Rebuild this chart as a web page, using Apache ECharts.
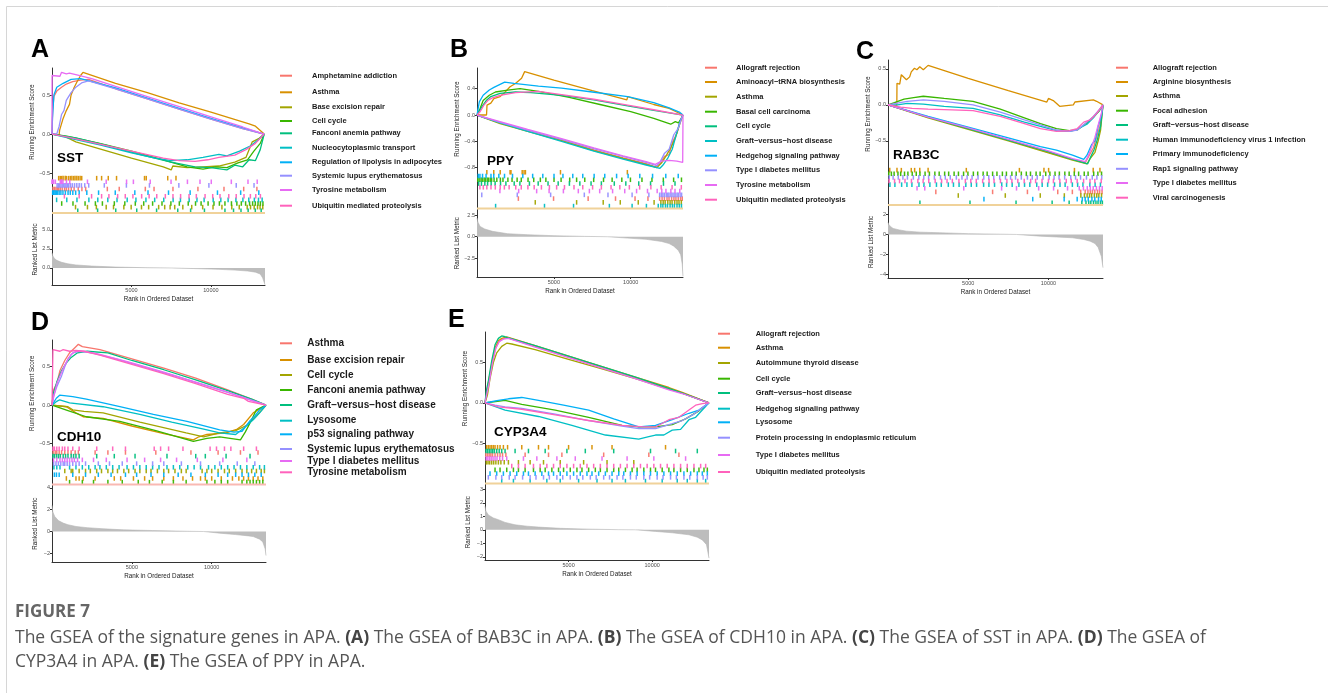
<!DOCTYPE html>
<html>
<head>
<meta charset="utf-8">
<script src="https://cdn.jsdelivr.net/npm/echarts@6.0.0/dist/echarts.min.js"></script>
<style>
  html, body { margin: 0; padding: 0; background: #fff; }
  #main { width: 1328px; height: 693px; }
</style>
</head>
<body>
<div id="main"></div>
<script>
// ggplot hue palette, 10 gene sets per panel
var colors = ['#F8766D', '#D89000', '#A3A500', '#39B600', '#00BF7D', '#00BFC4', '#00B0F6', '#9590FF', '#E76BF3', '#FF62BC'];
var N_GENES = 13400;
var xLabelTicks = [5000, 10000];

// ---------- A : SST ----------
var namesA = ['Amphetamine addiction', 'Asthma', 'Base excision repair', 'Cell cycle', 'Fanconi anemia pathway',
  'Nucleocytoplasmic transport', 'Regulation of lipolysis in adipocytes', 'Systemic lupus erythematosus',
  'Tyrosine metabolism', 'Ubiquitin mediated proteolysis'];
var esA = [
  [[0,0],[40,0.3],[120,0.48],[300,0.55],[600,0.6],[900,0.64],[1300,0.67],[1800,0.69],[2300,0.7],[4000,0.58],[6000,0.45],[8000,0.32],[10000,0.19],[12000,0.07],[13350,0]],
  [[0,0],[450,-0.01],[480,0.05],[700,0.2],[900,0.3],[1100,0.38],[1200,0.5],[1400,0.6],[1600,0.68],[1800,0.75],[1950,0.79],[4000,0.65],[6000,0.53],[8000,0.4],[10000,0.28],[12400,0.13],[12800,0.1],[13350,0]],
  [[0,0],[800,-0.03],[1500,-0.1],[3000,-0.19],[5000,-0.31],[7000,-0.42],[7500,-0.46],[7600,-0.41],[8500,-0.43],[9500,-0.42],[10500,-0.41],[11500,-0.36],[12200,-0.3],[12600,-0.1],[13000,-0.06],[13350,0]],
  [[0,0],[1000,-0.03],[3000,-0.12],[5000,-0.22],[7000,-0.33],[8500,-0.42],[9500,-0.45],[10300,-0.42],[11000,-0.43],[11700,-0.37],[12300,-0.33],[12700,-0.22],[13100,-0.12],[13350,0]],
  [[0,0],[1500,-0.05],[3500,-0.15],[5500,-0.26],[7500,-0.36],[9000,-0.42],[10000,-0.43],[11000,-0.46],[11500,-0.4],[12000,-0.42],[12400,-0.33],[12800,-0.34],[13100,-0.2],[13350,0]],
  [[0,0],[1000,-0.05],[3000,-0.14],[5000,-0.24],[6500,-0.31],[7500,-0.34],[8500,-0.33],[9500,-0.3],[10500,-0.26],[11000,-0.28],[11800,-0.22],[12500,-0.15],[13000,-0.07],[13350,0]],
  [[0,0],[30,0.2],[120,0.5],[300,0.6],[700,0.65],[1200,0.7],[1800,0.71],[4000,0.59],[6000,0.46],[8000,0.33],[10000,0.2],[12000,0.08],[13350,0]],
  [[0,0],[300,0],[450,0.1],[600,0.25],[750,0.3],[900,0.43],[1200,0.53],[1500,0.6],[1900,0.66],[2300,0.68],[4000,0.58],[6000,0.45],[8000,0.32],[10000,0.19],[12000,0.07],[13350,0]],
  [[0,0],[5,0.75],[500,0.74],[600,0.79],[900,0.77],[1100,0.78],[1500,0.76],[2500,0.71],[4000,0.61],[6000,0.48],[8000,0.35],[10000,0.22],[12000,0.09],[13350,0]],
  [[0,0],[1000,-0.04],[3000,-0.13],[5000,-0.22],[7000,-0.31],[8000,-0.34],[9000,-0.35],[9800,-0.33],[10500,-0.3],[11500,-0.27],[12200,-0.2],[12800,-0.12],[13350,0]]
];
var rugA = [
  [60,150,250,330,420,520,640,790,900,1040,1210,1390,1650,1880,2120,3480,4230,5870,6420,7610,9180,10820,12060,12890],
  [420,520,610,700,830,910,1040,1150,1250,1360,1450,1560,1660,1770,1870,2810,3120,3540,4060,5820,5930,7280,7800],
  [1480,2230,2790,3410,3870,4520,4980,5630,6080,6710,7090,7430,7720,8230,8790,9480,10130,10690,11310,11780,12280,12490,12720,12930,13090,13260],
  [610,1320,2080,2730,3170,3920,4580,5240,5770,6330,6920,7480,8010,8570,9030,9380,9820,10190,10530,10880,11290,11630,11910,12180,12430,12620,12790,12960,13110,13270],
  [1620,2870,4010,5330,6580,7910,8720,9590,10880,11420,11890,12340,12790,13160],
  [290,930,1570,2320,2880,3510,4090,4730,5280,5910,6460,7030,7620,8080,8630,9120,9570,10140,10620,11080,11570,12010,12380,12730,12990,13220],
  [40,80,130,200,270,350,450,560,690,840,1010,1150,1310,1490,1710,2190,2930,3980,5210,6040,7330,8690,10410,11870,13010],
  [320,400,470,560,640,720,810,880,960,1050,1160,1280,1420,1560,1710,1850,2060,2310,3290,4680,6130,7980,9870,11590,12710],
  [5,20,100,210,520,580,620,690,910,1120,2230,3410,4690,5120,6180,7490,8520,9310,10020,11280,12330,12910],
  [780,1710,2490,3120,3580,4130,4610,5090,5640,6110,6590,7130,7610,8090,8620,9080,9630,10110,10570,11120,11590,12080,12480,12820,13110]
];
var rowA = [3, 0, 8, 7, 9, 6, 4, 2, 1, 5];
var rankA = [[0,2.0],[50,1.6],[150,1.25],[300,1.0],[600,0.75],[1000,0.55],[1500,0.4],[2500,0.25],[4000,0.12],[6000,0.03],[7500,0],[9000,-0.08],[10500,-0.18],[11500,-0.28],[12300,-0.4],[12800,-0.55],[13100,-0.8],[13250,-1.3],[13400,-2.2]];
var esTicksA = [-0.5, 0, 0.5];
var rkTicksA = [0, 2.5, 5];

// ---------- B : PPY ----------
var namesB = ['Allograft rejection', 'Aminoacyl\u2212tRNA biosynthesis', 'Asthma', 'Basal cell carcinoma', 'Cell cycle',
  'Graft\u2212versus\u2212host disease', 'Hedgehog signaling pathway', 'Type I diabetes mellitus', 'Tyrosine metabolism',
  'Ubiquitin mediated proteolysis'];
var esB = [
  [[0,0],[1500,-0.12],[3300,-0.24],[5500,-0.38],[7600,-0.53],[9500,-0.65],[11000,-0.74],[11600,-0.79],[11900,-0.74],[12200,-0.63],[12500,-0.6],[12700,-0.42],[13000,-0.28],[13250,-0.06],[13400,0]],
  [[0,0],[620,0],[650,0.15],[900,0.18],[1100,0.25],[1500,0.28],[1750,0.33],[2150,0.43],[2500,0.48],[2900,0.56],[3100,0.66],[5000,0.53],[7500,0.37],[9750,0.23],[9800,0.28],[11500,0.16],[12500,0.1],[13400,0]],
  [[0,0],[1500,-0.13],[3300,-0.25],[5500,-0.39],[7600,-0.54],[9500,-0.66],[11000,-0.75],[11700,-0.8],[12000,-0.73],[12300,-0.62],[12600,-0.5],[12900,-0.35],[13200,-0.13],[13400,0]],
  [[0,0],[200,0.1],[400,0.22],[800,0.3],[1200,0.35],[2000,0.38],[2800,0.4],[4000,0.36],[6000,0.27],[8000,0.16],[10000,0.05],[11500,-0.05],[12600,-0.14],[12900,-0.1],[13100,-0.12],[13300,-0.05],[13400,0]],
  [[0,0],[300,0.12],[600,0.22],[900,0.28],[1500,0.33],[2500,0.35],[3500,0.34],[5500,0.3],[7600,0.23],[9800,0.14],[11500,0.07],[13400,0]],
  [[0,0],[1500,-0.12],[3300,-0.25],[5500,-0.4],[7600,-0.55],[9500,-0.67],[11000,-0.76],[11900,-0.81],[12100,-0.76],[12400,-0.66],[12700,-0.52],[12900,-0.35],[13200,-0.1],[13400,0]],
  [[0,0],[150,0.2],[400,0.3],[800,0.38],[1100,0.42],[1800,0.5],[2400,0.48],[4000,0.44],[5500,0.41],[7500,0.35],[9800,0.28],[11500,0.19],[12500,0.11],[13200,0.04],[13400,0]],
  [[0,0],[1500,-0.11],[3300,-0.23],[5500,-0.37],[7600,-0.51],[9500,-0.63],[11000,-0.72],[11700,-0.77],[11900,-0.72],[12200,-0.58],[12500,-0.52],[12800,-0.3],[13100,-0.2],[13300,-0.05],[13400,0]],
  [[0,0],[1500,-0.1],[3300,-0.22],[5500,-0.36],[7600,-0.5],[9500,-0.62],[11000,-0.71],[11600,-0.75],[12000,-0.7],[12500,-0.69],[13000,-0.7],[13380,-0.72],[13400,0]],
  [[0,0],[200,0.05],[450,0.15],[700,0.22],[1000,0.26],[1500,0.3],[2500,0.34],[4000,0.36],[5500,0.31],[7600,0.24],[9800,0.15],[11500,0.08],[13400,0]]
];
var rugB = [
  [2690,4980,7230,9010,10280,11120,11880,12040,12190,12360,12490,12660,12810,12940,13090,13240,13350],
  [640,1090,1510,2150,2210,2940,3060,3150,5430,9780],
  [3790,6480,8210,9320,10490,11520,11960,12110,12240,12410,12560,12690,12860,13010,13140,13290],
  [50,140,260,340,460,540,660,740,860,950,1110,1290,1520,1690,2010,2280,2610,2880,3320,3690,4120,4480,5010,5470,6030,6480,7010,7590,8230,8790,9420,9980,10730,11380,12120,12790,13300],
  [110,290,510,690,920,1180,1530,1880,2420,2790,3410,3980,4620,5280,6010,6690,7420,8090,8930,9680,10520,11290,12130,12880],
  [1210,4390,6280,8610,10090,11020,11790,11960,12090,12260,12390,12560,12710,12840,13010,13160,13300],
  [80,190,360,590,910,1090,1420,1790,2310,2980,3620,4280,5010,5590,6230,6880,7620,8310,9080,9830,10590,11420,12280,13090],
  [310,2620,4790,6980,8520,10090,11180,11880,11990,12090,12190,12310,12410,12490,12610,12690,12810,12890,13010,13090,13210,13310],
  [1490,2710,3880,4690,5620,6590,7310,7980,8820,9610,10380,11090,11720,12020,12290,12610,12880,13190],
  [190,410,640,910,1190,1510,1780,2090,2520,2880,3310,3720,4190,4710,5180,5690,6310,6880,7520,8090,8720,9290,9910,10580,11310,11980,12690,13290]
];
var rowB = [7, 0, 8, 2, 3, 9, 1, 6, 5, 4];
var rankB = [[0,2.2],[60,1.7],[200,1.2],[500,0.9],[1000,0.63],[2000,0.35],[3300,0.23],[5000,0.12],[7000,0.04],[8500,0],[9800,-0.16],[11000,-0.3],[12000,-0.55],[12500,-0.8],[12800,-1.1],[13100,-1.6],[13250,-2.1],[13350,-3.2],[13400,-4.6]];
var esTicksB = [-0.8, -0.4, 0, 0.4];
var rkTicksB = [-2.5, 0, 2.5];

// ---------- C : RAB3C ----------
var namesC = ['Allograft rejection', 'Arginine biosynthesis', 'Asthma', 'Focal adhesion', 'Graft\u2212versus\u2212host disease',
  'Human immunodeficiency virus 1 infection', 'Primary immunodeficiency', 'Rap1 signaling pathway',
  'Type I diabetes mellitus', 'Viral carcinogenesis'];
var esC = [
  [[0,0],[2500,-0.17],[5000,-0.33],[7500,-0.49],[10000,-0.66],[11500,-0.76],[12300,-0.8],[12500,-0.72],[12800,-0.6],[13000,-0.45],[13200,-0.3],[13400,0]],
  [[0,0],[550,-0.01],[560,0.3],[730,0.29],[830,0.42],[1150,0.35],[1350,0.39],[1450,0.46],[1650,0.51],[1800,0.49],[1980,0.53],[2200,0.49],[2500,0.55],[5000,0.37],[7500,0.2],[9900,0.04],[10000,0.09],[10300,0.06],[10700,-0.02],[11550,0],[11650,0.04],[12800,0.07],[13000,0.05],[13400,0]],
  [[0,0],[2500,-0.18],[5000,-0.34],[7500,-0.5],[10000,-0.67],[11500,-0.77],[12400,-0.82],[12600,-0.75],[12900,-0.66],[13100,-0.5],[13250,-0.35],[13400,0]],
  [[0,0],[400,0.03],[1000,0.08],[1600,0.1],[2200,0.12],[3500,0.09],[5300,0.05],[7000,-0.06],[8500,-0.18],[9500,-0.26],[10500,-0.33],[11300,-0.36],[11800,-0.35],[12400,-0.25],[12800,-0.17],[13150,-0.09],[13400,0]],
  [[0,0],[2500,-0.17],[5000,-0.33],[7500,-0.49],[10000,-0.65],[11500,-0.76],[12450,-0.82],[12600,-0.74],[12850,-0.62],[13050,-0.48],[13250,-0.3],[13400,0]],
  [[0,0],[600,0],[1200,0.02],[2200,0.01],[3500,-0.02],[5300,-0.05],[7000,-0.14],[8500,-0.24],[9500,-0.3],[10500,-0.36],[11300,-0.37],[11800,-0.34],[12400,-0.27],[12800,-0.18],[13150,-0.08],[13400,0]],
  [[0,0],[2500,-0.16],[5000,-0.31],[7500,-0.46],[9500,-0.58],[10500,-0.63],[11500,-0.7],[12200,-0.76],[12400,-0.7],[12700,-0.55],[12900,-0.5],[13100,-0.3],[13300,-0.15],[13400,0]],
  [[0,0],[500,0.02],[1200,0.05],[2200,0.07],[3500,0.05],[5300,0],[7000,-0.1],[8500,-0.21],[9500,-0.28],[10500,-0.35],[11300,-0.37],[11800,-0.35],[12400,-0.24],[12800,-0.16],[13150,-0.07],[13400,0]],
  [[0,0],[2500,-0.17],[5000,-0.32],[7500,-0.48],[10000,-0.64],[11500,-0.75],[12300,-0.79],[12500,-0.7],[12700,-0.58],[12900,-0.45],[13100,-0.28],[13300,-0.12],[13400,0]],
  [[0,0],[800,-0.03],[1500,-0.05],[2500,-0.06],[4000,-0.07],[5300,-0.08],[7000,-0.16],[8500,-0.26],[9500,-0.33],[10500,-0.37],[11300,-0.36],[11800,-0.33],[12200,-0.24],[12600,-0.21],[13000,-0.12],[13400,0]]
];
var rugC = [
  [2980,6520,8690,10580,11490,12010,12290,12460,12610,12740,12890,13060,13190,13340],
  [110,560,830,1450,1660,1980,2500,4880,8190,9720,10010,11620,12790,13210],
  [4380,7310,9490,10990,12020,12240,12410,12560,12690,12860,13010,13140,13310],
  [50,210,380,620,790,1030,1240,1510,1760,1990,2310,2580,2920,3190,3530,3780,4120,4390,4710,4980,5320,5590,5930,6180,6520,6790,7130,7380,7720,7990,8310,8620,8880,9230,9480,9830,10090,10410,10680,11020,11290,11610,11880,12230,12470,12820,13080,13310],
  [1990,5110,7980,10230,11290,12080,12340,12510,12640,12810,12960,13090,13240,13360],
  [120,430,850,1180,1490,1930,2240,2610,3020,3320,3760,4080,4430,4850,5190,5520,5960,6290,6640,7090,7390,7740,8160,8510,8840,9270,9610,9950,10380,10720,11040,11490,11820,12150,12580,12910,13240],
  [5980,9020,10980,11790,12110,12290,12480,12710,12890,13120,13290],
  [80,320,640,930,1210,1580,1920,2230,2530,2890,3270,3570,3880,4260,4610,4930,5240,5610,5970,6280,6590,6960,7320,7640,7950,8310,8690,8990,9300,9660,10040,10350,10660,11010,11390,11690,12000,12370,12730,13020,13320],
  [1810,2290,4720,7080,8010,9390,10320,11190,11920,12180,12420,12610,12790,12990,13180,13350],
  [70,410,720,1060,1460,1860,2190,2540,2940,3340,3680,4010,4420,4820,5160,5500,5900,6300,6610,7010,7410,7720,8090,8490,8890,9200,9600,10000,10310,10710,11110,11420,11790,12190,12590,12890,13290]
];
var rowC = [6, 0, 7, 1, 9, 4, 8, 2, 5, 3];
var rankC = [[0,1.2],[50,1.0],[150,0.8],[320,0.6],[700,0.45],[1150,0.33],[2000,0.23],[3200,0.17],[5000,0.08],[7000,0.03],[8000,0],[9500,-0.17],[10500,-0.25],[11500,-0.33],[12200,-0.5],[12600,-0.67],[12900,-0.9],[13100,-1.3],[13300,-2.2],[13400,-3.3]];
var esTicksC = [-0.5, 0, 0.5];
var rkTicksC = [-4, -2, 0, 2];

// ---------- D : CDH10 ----------
var namesD = ['Asthma', 'Base excision repair', 'Cell cycle', 'Fanconi anemia pathway', 'Graft\u2212versus\u2212host disease',
  'Lysosome', 'p53 signaling pathway', 'Systemic lupus erythematosus', 'Type I diabetes mellitus', 'Tyrosine metabolism'];
var esD = [
  [[0,0],[100,0.2],[300,0.28],[500,0.45],[800,0.58],[1100,0.68],[1400,0.74],[1650,0.79],[1900,0.76],[3000,0.72],[5000,0.6],[7000,0.48],[9000,0.35],[11000,0.2],[12500,0.08],[13400,0]],
  [[0,0],[900,-0.02],[1500,-0.1],[1950,-0.15],[3200,-0.17],[5000,-0.27],[7000,-0.37],[8850,-0.45],[9200,-0.41],[9700,-0.38],[10900,-0.36],[11600,-0.31],[12000,-0.25],[12600,-0.1],[13400,0]],
  [[0,0],[1000,-0.02],[1300,-0.06],[2000,-0.08],[3200,-0.1],[5500,-0.22],[8400,-0.36],[9500,-0.41],[10500,-0.36],[11500,-0.33],[12200,-0.26],[12800,-0.14],[13400,0]],
  [[0,0],[1000,-0.07],[2150,-0.15],[4250,-0.21],[6500,-0.33],[8850,-0.47],[9700,-0.43],[10500,-0.41],[11800,-0.45],[12100,-0.35],[12400,-0.23],[12800,-0.06],[13400,0]],
  [[0,0],[80,0.15],[300,0.3],[600,0.45],[900,0.55],[1200,0.62],[1600,0.68],[2200,0.7],[3500,0.68],[5000,0.58],[7000,0.46],[9000,0.33],[11000,0.19],[12500,0.08],[13400,0]],
  [[0,0],[300,0.05],[480,0.07],[1100,0.03],[3200,-0.02],[5500,-0.12],[7500,-0.22],[9500,-0.31],[10500,-0.36],[11500,-0.38],[12000,-0.3],[12600,-0.19],[13000,-0.1],[13400,0]],
  [[0,0],[270,0.09],[480,0.13],[1300,0.11],[2150,0.08],[4250,-0.02],[6350,-0.12],[8450,-0.21],[10500,-0.32],[11400,-0.35],[11900,-0.34],[12400,-0.2],[12700,-0.14],[13000,-0.06],[13400,0]],
  [[0,0],[100,0.12],[300,0.24],[600,0.38],[800,0.5],[1000,0.6],[1300,0.68],[1700,0.7],[2500,0.68],[4000,0.6],[6000,0.48],[8000,0.36],[10000,0.23],[12000,0.1],[13400,0]],
  [[0,0],[100,0.1],[300,0.28],[600,0.43],[900,0.56],[1200,0.66],[1500,0.7],[2000,0.7],[3000,0.66],[5000,0.55],[7000,0.43],[9000,0.3],[11000,0.17],[12500,0.06],[13400,0]],
  [[0,0],[50,0],[60,0.72],[500,0.7],[700,0.72],[1100,0.7],[1500,0.71],[2000,0.7],[3000,0.65],[5000,0.53],[7000,0.41],[9000,0.28],[11000,0.14],[12000,0.09],[12300,0.05],[13400,0]]
];
var rugD = [
  [70,200,300,450,600,800,1000,1200,1450,1650,2700,3500,4600,6500,8700,10400,11800,12900],
  [900,1500,1700,1950,2700,3900,4300,5100,5800,6300,7000,7600,8200,8800,9300,9600,10000,10600,11300,11700,12000,12300,12600,12900,13200],
  [800,1200,1300,1700,2100,2400,2800,3100,3500,3800,4100,4500,4800,5200,5500,5900,6200,6600,7000,7300,7700,8100,8400,9400,9700,10000,10400,10800,11100,11500,11900,12200,12500,12800,13100,13300],
  [1100,1900,2600,3500,4400,5400,6100,6900,7600,8400,9700,10200,10600,11000,11900,12200,12400,12600,12800,13000,13200],
  [60,150,280,400,520,700,850,1000,1200,1350,1500,1700,2800,3900,5200,7200,9000,9600,10900,12400],
  [120,300,500,1100,1500,1900,2300,2700,3000,3400,3800,4200,4700,5100,5500,5900,6300,6700,7200,7600,8000,8500,8900,9300,9800,10200,10600,11000,11400,11800,12200,12600,13000,13300],
  [150,280,450,1300,2100,2900,3700,4600,5300,6200,7000,7900,8700,9600,10400,11000,11500,11900,12300,12700,13100],
  [100,250,400,550,700,800,950,1100,1300,1500,1700,2100,2900,3600,4400,5300,6300,7000,8100,9300,10500,11600,12700],
  [100,300,500,650,800,950,1100,1250,1400,1600,1900,2600,3400,4700,5800,6800,7800,9100,10700,12200],
  [60,150,300,450,650,800,1000,1300,1700,2800,3800,4600,6400,6800,7300,8200,9900,10300,10800,11200,12000,12800]
];
var rowD = [1, 8, 6, 9, 2, 5, 7, 4, 3, 0];
var rankD = [[0,2.4],[50,1.8],[170,1.38],[400,1.0],[700,0.77],[1000,0.62],[1500,0.46],[2200,0.35],[3200,0.25],[4500,0.15],[6300,0.09],[8500,0.02],[9500,0],[10500,-0.15],[11500,-0.28],[12300,-0.4],[12600,-0.46],[13000,-0.7],[13200,-0.95],[13350,-1.6],[13400,-2.2]];
var esTicksD = [-0.5, 0, 0.5];
var rkTicksD = [-2, 0, 2, 4];

// ---------- E : CYP3A4 ----------
var namesE = ['Allograft rejection', 'Asthma', 'Autoimmune thyroid disease', 'Cell cycle', 'Graft\u2212versus\u2212host disease',
  'Hedgehog signaling pathway', 'Lysosome', 'Protein processing in endoplasmic reticulum', 'Type I diabetes mellitus',
  'Ubiquitin mediated proteolysis'];
var esE = [
  [[0,0],[100,0.1],[200,0.22],[400,0.45],[600,0.66],[800,0.75],[1000,0.79],[1300,0.81],[3000,0.7],[5000,0.57],[7000,0.44],[9000,0.31],[11000,0.18],[11800,0.12],[13400,0]],
  [[0,0],[100,0.12],[200,0.25],[400,0.48],[600,0.68],[800,0.77],[1000,0.8],[1300,0.82],[3000,0.71],[5000,0.58],[7000,0.45],[9000,0.32],[11000,0.19],[11800,0.13],[13400,0]],
  [[0,0],[150,0.1],[300,0.3],[500,0.5],[700,0.62],[1000,0.7],[1300,0.74],[1600,0.73],[3000,0.66],[5000,0.54],[7000,0.42],[9000,0.3],[11000,0.17],[11800,0.12],[13400,0]],
  [[0,0],[400,0.01],[1200,0.03],[2200,-0.02],[4200,-0.09],[6200,-0.18],[8200,-0.28],[9200,-0.3],[10200,-0.3],[11200,-0.27],[12000,-0.2],[12800,-0.1],[13400,0]],
  [[0,0],[80,0.15],[200,0.27],[400,0.52],[600,0.72],[800,0.8],[1000,0.83],[1200,0.82],[3000,0.71],[5000,0.58],[7000,0.45],[9000,0.32],[11000,0.18],[11800,0.12],[13400,0]],
  [[0,0],[1200,-0.09],[3200,-0.17],[5200,-0.28],[7200,-0.4],[9200,-0.45],[9800,-0.42],[10200,-0.4],[10700,-0.4],[11200,-0.34],[11700,-0.33],[12200,-0.21],[12600,-0.18],[13000,-0.09],[13400,0]],
  [[0,0],[300,0.01],[800,0.03],[1400,0.05],[2200,0.066],[3200,0.03],[4700,-0.03],[6200,-0.09],[7700,-0.2],[9200,-0.3],[10200,-0.28],[11200,-0.21],[12200,-0.13],[12800,-0.09],[13400,0]],
  [[0,0],[600,-0.03],[1200,-0.05],[2200,-0.07],[4200,-0.14],[6200,-0.22],[8200,-0.29],[9200,-0.32],[10200,-0.32],[11200,-0.26],[11800,-0.22],[12500,-0.14],[13000,-0.06],[13400,0]],
  [[0,0],[100,0.1],[250,0.25],[450,0.5],[650,0.68],[850,0.76],[1100,0.79],[1400,0.8],[3000,0.69],[5000,0.56],[7000,0.43],[9000,0.3],[11000,0.16],[12000,0.1],[13400,0]],
  [[0,0],[800,-0.05],[2200,-0.08],[4200,-0.15],[6200,-0.22],[8200,-0.28],[9500,-0.3],[10200,-0.3],[11000,-0.21],[11600,-0.18],[12200,-0.09],[12600,-0.03],[13000,-0.01],[13400,0]]
];
var rugE = [
  [50,150,250,350,450,600,750,900,1050,1250,2400,3800,4600,7100,9800,11600],
  [100,200,300,400,500,600,750,900,1100,1350,2200,3200,3800,5000,6400,7600,10800],
  [80,180,280,400,520,650,800,950,1150,1400,2000,2700,3500,4500,5900,7300,8900],
  [600,900,1300,1700,2000,2400,2900,3300,3600,4000,4400,4700,5100,5500,5800,6200,6600,6900,7300,7700,8000,8400,8800,9100,9500,9900,10200,10600,11000,11300,11700,12100,12500,12800,13100,13300],
  [60,160,260,360,460,560,700,850,1000,1200,1800,2600,3600,4900,6000,7700,9900,11400,12700],
  [1000,1700,2700,3700,4500,5600,6700,7600,8400,9600,10600,11500,12100,12700,13200],
  [300,700,1100,1500,1900,2300,2600,3000,3400,3800,4100,4500,4900,5300,5700,6100,6400,6800,7200,7600,8000,8300,8700,9100,9500,9900,10300,10700,11100,11500,11900,12300,12700,13000,13300],
  [200,650,1000,1450,1800,2250,2700,3050,3500,3850,4300,4650,5100,5500,5850,6300,6650,7100,7450,7900,8250,8700,9050,9500,9850,10300,10650,11100,11450,11900,12250,12700,13050,13300],
  [70,170,270,370,480,600,720,880,1050,1300,2300,3100,4300,5400,7000,8500,10100,12000],
  [1600,2000,2400,2900,3300,3700,4100,4500,4900,5300,5700,6100,6500,6900,7300,7700,8100,8500,8900,9300,9700,10100,10500,10900,11300,11700,12100,12500,12900,13200]
];
var rowE = [2, 0, 4, 6, 1, 9, 7, 8, 3, 5];
var rankE = [[0,1.75],[50,1.4],[200,1.1],[500,0.88],[800,0.75],[1200,0.55],[1800,0.37],[2500,0.27],[3200,0.2],[4500,0.11],[6200,0.05],[8000,0.01],[9000,0],[10200,-0.12],[11200,-0.22],[12200,-0.37],[12700,-0.55],[13000,-0.75],[13250,-1.1],[13400,-2.1]];
var esTicksE = [-0.5, 0, 0.5];
var rkTicksE = [-2, -1, 0, 1, 2, 3];

// ---------- layout (pixels) ----------
var FONT = '"Liberation Sans", Arial, sans-serif';
var panels = [
  { letter: 'A', gene: 'SST', names: namesA, es: esA, rug: rugA, rows: rowA, rank: rankA, esTicks: esTicksA, rkTicks: rkTicksA,
    left: 52, right: 265, esTop: 68, esBot: 176, rugBot: 214, rkBot: 285, esMin: -0.538, esMax: 0.846, rkMin: -2.24, rkMax: 7.1, esDec: 1, rkDec: 1,
    letterXY: [31, 50], geneXY: [57, 158], keyX: 280, textX: 312, fs: 7.5, base: '#f0d29a',
    legY: [75.7, 92.3, 107.3, 121, 133.3, 147.7, 162.3, 175.7, 190, 205.7] },
  { letter: 'B', gene: 'PPY', names: namesB, es: esB, rug: rugB, rows: rowB, rank: rankB, esTicks: esTicksB, rkTicks: rkTicksB,
    left: 477, right: 683, esTop: 68, esBot: 170, rugBot: 209.5, rkBot: 277, esMin: -0.836, esMax: 0.715, rkMin: -4.69, rkMax: 3.17, esDec: 1, rkDec: 1,
    letterXY: [450, 50], geneXY: [487, 161], keyX: 705, textX: 736, fs: 7.5, base: '#f0d29a',
    legY: [67.7, 82, 96.7, 111.7, 126.3, 141, 155.7, 170.3, 185, 199.7] },
  { letter: 'C', gene: 'RAB3C', names: namesC, es: esC, rug: rugC, rows: rowC, rank: rankC, esTicks: esTicksC, rkTicks: rkTicksC,
    left: 888, right: 1103, esTop: 60, esBot: 168, rugBot: 206, rkBot: 278, esMin: -0.879, esMax: 0.625, rkMin: -4.33, rkMax: 2.83, esDec: 1, rkDec: 0,
    letterXY: [856, 52], geneXY: [893, 155], keyX: 1116, textX: 1152.7, fs: 7.5, base: '#f0d29a',
    legY: [67.7, 82, 96, 110.7, 125, 139.7, 154, 168.8, 183, 197.7] },
  { letter: 'D', gene: 'CDH10', names: namesD, es: esD, rug: rugD, rows: rowD, rank: rankD, esTicks: esTicksD, rkTicks: rkTicksD,
    left: 52, right: 266, esTop: 340, esBot: 446.5, rugBot: 485.5, rkBot: 562, esMin: -0.536, esMax: 0.846, rkMin: -2.79, rkMax: 4.21, esDec: 1, rkDec: 0,
    letterXY: [31, 323], geneXY: [57, 437], keyX: 280, textX: 307.3, fs: 10, base: '#f9b9b3',
    legY: [343.3, 360, 375, 390, 405, 420.7, 434.3, 449, 461, 472.3] },
  { letter: 'E', gene: 'CYP3A4', names: namesE, es: esE, rug: rugE, rows: rowE, rank: rankE, esTicks: esTicksE, rkTicks: rkTicksE,
    left: 485, right: 709, esTop: 332, esBot: 445, rugBot: 484.5, rkBot: 560, esMin: -0.524, esMax: 0.879, rkMin: -2.24, rkMax: 3.36, esDec: 1, rkDec: 0,
    letterXY: [448, 320], geneXY: [494, 432], keyX: 718, textX: 755.7, fs: 7.5, base: '#f0d29a',
    legY: [333.7, 347.7, 363, 378.7, 393, 408.7, 422.3, 437.7, 455, 472] }
];

function fmt(v, d) { return v.toFixed(d).replace('-', '\u2212'); }

var grids = [], xAxes = [], yAxes = [], series = [], graphics = [];

function xAxisFor(gi, bottom) {
  return {
    type: 'value', gridIndex: gi, min: 0, max: N_GENES, interval: 2500,
    axisLine: { show: bottom, onZero: false, lineStyle: { color: '#333', width: 1 } },
    axisTick: { show: bottom, customValues: xLabelTicks, length: 2, lineStyle: { color: '#333' } },
    axisLabel: { show: bottom, customValues: xLabelTicks, fontSize: 5.5, color: '#4d4d4d', margin: 2.5, fontFamily: FONT,
      formatter: function (v) { return xLabelTicks.indexOf(v) >= 0 ? String(v) : ''; } },
    splitLine: { show: true, showMinLine: false, showMaxLine: false, lineStyle: { color: '#ebebeb', width: 1 } },
    name: bottom ? 'Rank in Ordered Dataset' : '', nameLocation: 'middle', nameGap: 11,
    nameTextStyle: { fontSize: 6.3, color: '#1a1a1a', fontFamily: FONT }
  };
}

function yAxisFor(gi, min, max, ticks, dec, name) {
  var has = ticks && ticks.length;
  return {
    type: 'value', gridIndex: gi, min: min, max: max,
    axisLine: { show: true, onZero: false, lineStyle: { color: '#333', width: 1 } },
    axisTick: { show: !!has, customValues: ticks || [], length: 2, lineStyle: { color: '#333' } },
    axisLabel: { show: !!has, customValues: ticks || [], fontSize: 5.5, color: '#4d4d4d', margin: 2, fontFamily: FONT,
      formatter: function (v) { return fmt(v, dec); } },
    splitLine: { show: false },
    name: name || '', nameLocation: 'middle', nameGap: 14,
    nameTextStyle: { fontSize: 6.3, color: '#1a1a1a', fontFamily: FONT }
  };
}

panels.forEach(function (p) {
  var w = p.right - p.left;
  var g0 = grids.length;
  grids.push({ left: p.left, top: p.esTop, width: w, height: p.esBot - p.esTop });
  grids.push({ left: p.left, top: p.esBot, width: w, height: p.rugBot - p.esBot });
  grids.push({ left: p.left, top: p.rugBot, width: w, height: p.rkBot - p.rugBot });

  xAxes.push(xAxisFor(g0, false), xAxisFor(g0 + 1, false), xAxisFor(g0 + 2, true));
  yAxes.push(yAxisFor(g0, p.esMin, p.esMax, p.esTicks, p.esDec, 'Running Enrichment Score'));
  yAxes.push(yAxisFor(g0 + 1, 0, 10.5, null, 0, ''));
  yAxes.push(yAxisFor(g0 + 2, p.rkMin, p.rkMax, p.rkTicks, p.rkDec, 'Ranked List Metric'));

  // running enrichment score curves
  p.names.forEach(function (nm, i) {
    series.push({
      type: 'line', name: nm, xAxisIndex: g0, yAxisIndex: g0, data: p.es[i],
      symbol: 'none', silent: true, lineStyle: { color: colors[i], width: 1.3 }
    });
  });

  // rug base line (all genes)
  series.push({
    type: 'line', xAxisIndex: g0 + 1, yAxisIndex: g0 + 1, symbol: 'none', silent: true,
    data: [[0, 0.25], [N_GENES, 0.25]], lineStyle: { color: p.base, width: 2 }
  });
  // rug hits
  p.names.forEach(function (nm, i) {
    var yv = 9.9 - p.rows[i];
    series.push({
      type: 'scatter', xAxisIndex: g0 + 1, yAxisIndex: g0 + 1, silent: true,
      symbol: 'rect', symbolSize: [1.5, 4.6],
      itemStyle: { color: colors[i], opacity: 0.95 },
      data: p.rug[i].map(function (r) { return [r, yv]; })
    });
  });

  // ranked list metric
  series.push({
    type: 'line', xAxisIndex: g0 + 2, yAxisIndex: g0 + 2, data: p.rank, symbol: 'none', silent: true,
    lineStyle: { color: '#b5b5b5', width: 0.6 }, areaStyle: { color: '#bdbdbd', opacity: 1 }
  });

  // panel letter and gene label
  graphics.push({ type: 'text', x: p.letterXY[0], y: p.letterXY[1],
    style: { text: p.letter, fontSize: 25, fontWeight: 'bold', fontFamily: FONT, fill: '#000', verticalAlign: 'middle' } });
  graphics.push({ type: 'text', x: p.geneXY[0], y: p.geneXY[1],
    style: { text: p.gene, fontSize: 13.5, fontWeight: 'bold', fontFamily: FONT, fill: '#000', verticalAlign: 'middle' } });

  // legend
  p.names.forEach(function (nm, i) {
    var y = p.legY[i];
    graphics.push({ type: 'line', shape: { x1: p.keyX, y1: y, x2: p.keyX + 12, y2: y },
      style: { stroke: colors[i], lineWidth: 2 } });
    graphics.push({ type: 'text', x: p.textX, y: y,
      style: { text: nm, fontSize: p.fs, fontWeight: 'bold', fontFamily: FONT, fill: '#1a1a1a', verticalAlign: 'middle' } });
  });
});

// page frame and caption
graphics.push({ type: 'rect', shape: { x: 6.5, y: 6.5, width: 1400, height: 800 },
  style: { fill: 'none', stroke: '#d6d6d6', lineWidth: 1 }, z: -1 });
var CAP = '"Open Sans", "Noto Sans", sans-serif';
graphics.push({ type: 'text', x: 15, y: 612,
  style: { text: 'FIGURE 7', fontSize: 17, fontWeight: 'bold', fontFamily: CAP, fill: '#666', verticalAlign: 'middle' } });
var capRich = {
  b: { fontSize: 17.5, fontWeight: 'bold', fontFamily: CAP, fill: '#444' },
  n: { fontSize: 17.5, fontFamily: CAP, fill: '#555' }
};
graphics.push({ type: 'text', x: 15, y: 638,
  style: { text: '{n|The GSEA of the signature genes in APA. }{b|(A)}{n| The GSEA of BAB3C in APA. }{b|(B)}{n| The GSEA of CDH10 in APA. }{b|(C)}{n| The GSEA of SST in APA. }{b|(D)}{n| The GSEA of}',
    rich: capRich, verticalAlign: 'middle' } });
graphics.push({ type: 'text', x: 15, y: 662,
  style: { text: '{n|CYP3A4 in APA. }{b|(E)}{n| The GSEA of PPY in APA.}', rich: capRich, verticalAlign: 'middle' } });

var chart = echarts.init(document.getElementById('main'), null, { renderer: 'canvas' });
chart.setOption({
  animation: false,
  backgroundColor: '#fff',
  grid: grids,
  xAxis: xAxes,
  yAxis: yAxes,
  series: series,
  graphic: graphics
});
</script>
</body>
</html>
